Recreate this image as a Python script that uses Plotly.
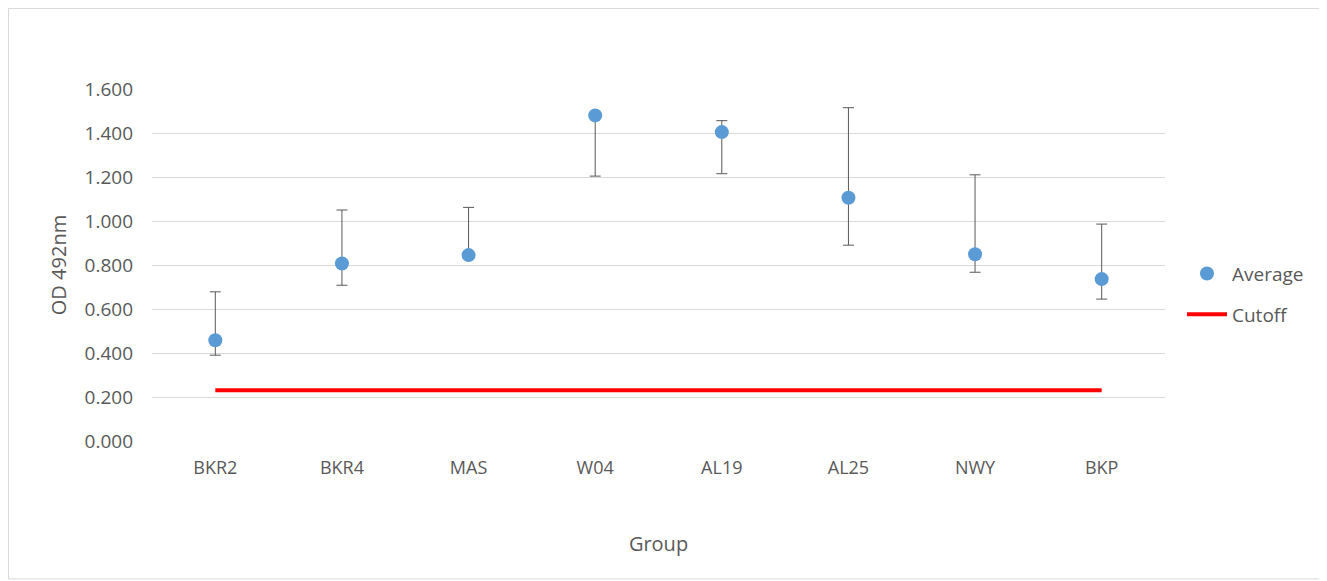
import plotly.graph_objects as go

groups = ["BKR2", "BKR4", "MAS", "W04", "AL19", "AL25", "NWY", "BKP"]
average = [0.458, 0.807, 0.845, 1.480, 1.404, 1.106, 0.849, 0.736]
upper = [0.678, 1.050, 1.062, 1.490, 1.456, 1.515, 1.210, 0.986]
lower = [0.390, 0.708, 0.830, 1.204, 1.215, 0.890, 0.767, 0.645]
cutoff = [0.231] * len(groups)
y_ticks = [0.0, 0.2, 0.4, 0.6, 0.8, 1.0, 1.2, 1.4, 1.6]

err_plus = [u - a for u, a in zip(upper, average)]
err_minus = [a - l for a, l in zip(average, lower)]

GRAY = "#595959"
FONT = "Open Sans, Liberation Sans, sans-serif"

fig = go.Figure()
fig.add_trace(go.Scatter(
    x=groups, y=cutoff, mode="lines", name="Cutoff",
    line=dict(color="#ff0000", width=4), legendgroup="b", legendrank=2,
))
fig.add_trace(go.Scatter(
    x=groups, y=average, mode="markers", name="Average",
    marker=dict(color="#5b9bd5", size=14),
    error_y=dict(type="data", array=err_plus, arrayminus=err_minus,
                 color=GRAY, thickness=1, width=5.5, visible=True),
    legendgroup="a", legendrank=1,
))

OFF = 8  # page body margin
W, H = 1327, 581
# plot area in page coordinates
PL, PR, PT, PB = 152, 1165, 89, 440.7
L, T = PL - OFF, PT - OFF
R = W - (PR - OFF)
B = H - (PB - OFF)
pw, ph = PR - PL, PB - PT

def px(x):
    return (x - PL) / pw

def py(y):
    return (PB - y) / ph

fig.add_shape(type="rect", xref="paper", yref="paper",
              x0=px(OFF + 0.5), x1=px(1322.5), y0=py(578.5), y1=py(OFF + 0.5),
              line=dict(color="#d9d9d9", width=1), fillcolor="rgba(0,0,0,0)",
              layer="below")

fig.update_layout(
    width=W, height=H,
    margin=dict(l=L, r=R, t=T, b=B),
    paper_bgcolor="white", plot_bgcolor="white",
    font=dict(family=FONT, color=GRAY, size=17),
    showlegend=True,
    legend=dict(x=px(1182), xanchor="left", y=py(294), yanchor="middle",
                font=dict(size=19, color=GRAY), tracegroupgap=13,
                itemwidth=40,
                traceorder="grouped", bgcolor="rgba(0,0,0,0)"),
    xaxis=dict(
        type="category", range=[-0.5, 7.5],
        showgrid=False, showline=False, zeroline=False,
        tickfont=dict(size=18, color=GRAY),
        ticks="", ticklabelstandoff=14,
        title=dict(text="Group", standoff=58,
                   font=dict(size=20, color=GRAY)),
    ),
    yaxis=dict(
        range=[0, 1.6], tickvals=y_ticks,
        ticktext=[f"{v:.3f}" for v in y_ticks],
        showgrid=True, gridcolor="#d9d9d9", gridwidth=1,
        zeroline=False, showline=False, ticks="",
        ticklabelstandoff=18,
        tickfont=dict(size=19, color=GRAY),
        title=dict(text="OD 492nm", standoff=12,
                   font=dict(size=20, color=GRAY)),
    ),
)

fig.write_html("out.html")
